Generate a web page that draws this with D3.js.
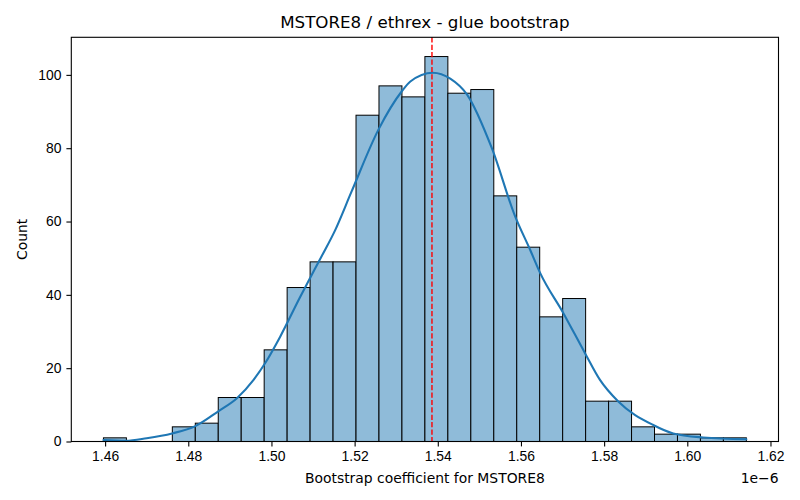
<!DOCTYPE html>
<html>
<head>
<meta charset="utf-8">
<script src="https://cdn.jsdelivr.net/npm/d3@7"></script>
<style>
  body { margin: 0; background: #fff; }
  svg { font-family: "DejaVu Sans", sans-serif; }
</style>
</head>
<body>
<svg width="800" height="500"></svg>
<script>
// histogram: 28 equal bins between binMin and binMax
const binMin = 1.4596e-6
const binMax = 1.6142e-6
const counts = [1, 0, 0, 4, 5, 12, 12, 25, 42, 49, 49, 89, 97, 94, 105, 95, 96, 67, 53, 34, 39, 11, 11, 4, 2, 2, 1, 1]

// kde curve (x in units of 1e-6, y in counts)
const kdeX = [1.4596, 1.4650, 1.4700, 1.4761, 1.4817, 1.4873, 1.4917, 1.4957, 1.4985, 1.5021, 1.5069, 1.5093, 1.5121, 1.5153, 1.5192, 1.5257, 1.5314, 1.5334, 1.5388, 1.5430, 1.5470, 1.5530, 1.5586, 1.5622, 1.5646, 1.5702, 1.5754, 1.5790, 1.5834, 1.5918, 1.5966, 1.6038, 1.6142]
const kdeY = [0.4, 0.2, 0.9, 2.2, 4.2, 8.3, 11.8, 16.8, 21.4, 28.6, 39.4, 44.6, 50.6, 57.6, 68.0, 85.0, 95.6, 98.2, 100.6, 99.0, 94.7, 80.0, 61.4, 52.3, 46.0, 35.0, 24.1, 16.8, 10.9, 4.5, 2.2, 1.1, 0.6]

const meanValue = 1.5386e-6
const xTicks = [1.46e-6, 1.48e-6, 1.50e-6, 1.52e-6, 1.54e-6, 1.56e-6, 1.58e-6, 1.60e-6, 1.62e-6]
const yTicks = [0, 20, 40, 60, 80, 100]

const titleText = "MSTORE8 / ethrex - glue bootstrap"
const xLabel = "Bootstrap coefficient for MSTORE8"
const yLabel = "Count"

const svg = d3.select("svg")
const width = +svg.attr("width")
const height = +svg.attr("height")

const margin = {left: 71.3, right: 778.5, top: 37.3, bottom: 441.5}

svg.append("rect").attr("width", width).attr("height", height).attr("fill", "#fff")

const binW = (binMax - binMin) / counts.length
const bins = counts.map((c, i) => ({x0: binMin + i * binW, x1: binMin + (i + 1) * binW, n: c}))

// matplotlib style 5% margins
const span = binMax - binMin
const xScale = d3.scaleLinear()
    .domain([binMin - 0.05 * span, binMax + 0.05 * span])
    .range([margin.left, margin.right])

const yMax = d3.max(counts) * 1.05
const yScale = d3.scaleLinear()
    .domain([0, yMax])
    .range([margin.bottom, margin.top])

// bars
svg.append("g")
    .selectAll("rect")
    .data(bins.filter(b => b.n > 0))
    .enter().append("rect")
    .attr("x", d => xScale(d.x0))
    .attr("y", d => yScale(d.n))
    .attr("width", d => xScale(d.x1) - xScale(d.x0))
    .attr("height", d => yScale(0) - yScale(d.n))
    .attr("fill", "#8fbbd9")
    .attr("stroke", "#000")
    .attr("stroke-width", 1)

// kde
const kde = kdeX.map((x, i) => [x * 1e-6, kdeY[i]])
svg.append("path")
    .datum(kde)
    .attr("fill", "none")
    .attr("stroke", "#1f77b4")
    .attr("stroke-width", 2.1)
    .attr("stroke-linecap", "round")
    .attr("d", d3.line()
        .x(d => xScale(d[0]))
        .y(d => yScale(d[1]))
        .curve(d3.curveMonotoneX))

// mean line
svg.append("line")
    .attr("x1", xScale(meanValue))
    .attr("x2", xScale(meanValue))
    .attr("y1", margin.top)
    .attr("y2", margin.bottom)
    .attr("stroke", "red")
    .attr("stroke-width", 1.4)
    .attr("stroke-dasharray", "5.2,2.2")

// axes
svg.append("g")
    .attr("transform", `translate(0, ${margin.bottom})`)
    .call(d3.axisBottom(xScale).tickValues(xTicks)
        .tickFormat(d => (d / 1e-6).toFixed(2))
        .tickSize(4.9).tickPadding(4.9).tickSizeOuter(0))
svg.append("g")
    .attr("transform", `translate(${margin.left}, 0)`)
    .call(d3.axisLeft(yScale).tickValues(yTicks)
        .tickSize(4.9).tickPadding(4.9).tickSizeOuter(0))

svg.selectAll(".domain").remove()
svg.selectAll(".tick line").attr("stroke", "#000").attr("stroke-width", 1.1)
svg.selectAll(".tick text").attr("fill", "#000").style("font-size", "13.9px")

// frame
svg.append("rect")
    .attr("x", margin.left)
    .attr("y", margin.top)
    .attr("width", margin.right - margin.left)
    .attr("height", margin.bottom - margin.top)
    .attr("fill", "none")
    .attr("stroke", "#000")
    .attr("stroke-width", 1.1)

// texts
svg.append("text")
    .attr("x", (margin.left + margin.right) / 2)
    .attr("y", 28)
    .attr("text-anchor", "middle")
    .style("font-size", "16.7px")
    .text(titleText)

svg.append("text")
    .attr("x", (margin.left + margin.right) / 2)
    .attr("y", 482.5)
    .attr("text-anchor", "middle")
    .style("font-size", "13.9px")
    .text(xLabel)

svg.append("text")
    .attr("x", margin.right)
    .attr("y", 482.5)
    .attr("text-anchor", "end")
    .style("font-size", "13.9px")
    .text("1e\u22126")

svg.append("text")
    .attr("transform", `translate(27, ${(margin.top + margin.bottom) / 2}) rotate(-90)`)
    .attr("text-anchor", "middle")
    .style("font-size", "13.9px")
    .text(yLabel)
</script>
</body>
</html>
